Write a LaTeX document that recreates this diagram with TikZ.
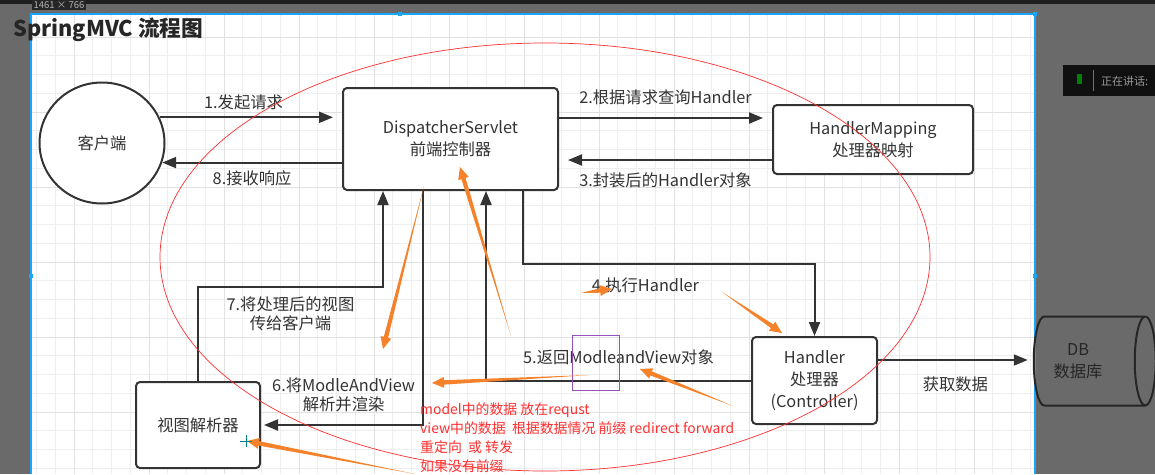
\documentclass[tikz,border=0pt]{standalone}
\usepackage{fontspec}
\setmainfont{Noto Sans CJK SC}
\usepackage{tikz}
\usetikzlibrary{calc, arrows.meta, shapes.geometric, positioning}
\definecolor{linecol}{RGB}{51,51,51}
\definecolor{markcol}{RGB}{245,130,42}
\definecolor{notecol}{RGB}{255,48,48}
\definecolor{gridcol}{RGB}{238,238,238}
\definecolor{gridmaj}{RGB}{225,225,225}
\definecolor{framecol}{RGB}{24,165,250}
\definecolor{darkbg}{RGB}{106,106,106}
\definecolor{selcol}{RGB}{150,80,190}
\newcommand{\boxfont}{\fontsize{16.3}{22}\selectfont}
\newcommand{\edgefont}{\fontsize{16.3}{19}\selectfont}
\newcommand{\notefont}{\fontsize{13.9}{19}\selectfont}
\newcommand{\titlefont}{\fontsize{21.7}{24}\selectfont\bfseries}
% orange hand-drawn marker: tail, tip
\newcommand{\markarrow}[2]{%
  \coordinate (mb) at ($(#2)!12pt!(#1)$);
  \fill[markcol] (#1) -- ($(mb)!2.2pt!90:(#1)$) -- ($(mb)!5.5pt!90:(#1)$) -- (#2)
    -- ($(mb)!5.5pt!-90:(#1)$) -- ($(mb)!2.2pt!-90:(#1)$) -- cycle;}
\tikzset{
    roundnode/.style = {draw=linecol, fill=white, rectangle, rounded corners=4pt, line width=2pt,
      align=center, text=linecol, font=\boxfont, node distance=0em},
    ellipsenode/.style = {draw=linecol, fill=white, ellipse, line width=2pt, inner sep=0em,
      text=linecol, font=\boxfont, node distance=0em},
    cylindernode/.style = {draw=black!85, cylinder, aspect=0.5, line width=2pt, align=center,
      text=black!85, font=\boxfont, node distance=0em},
    textnode/.style = {draw=none, fill=none, rectangle, inner sep=0em, align=center,
      text=linecol, font=\edgefont},
    connect/.style = {draw=linecol, line width=2pt, -{Triangle[length=14pt,width=11pt]}},
    gridline/.style = {gridcol, line width=0.9pt},
    gridmajor/.style = {gridmaj, line width=1pt}
}
\begin{document}
\begin{tikzpicture}[x=1pt, y=-1pt]
\clip (0,0) rectangle (1155,474);
% screen around the canvas
\fill[darkbg] (0,0) rectangle (1155,474);
\fill[black!88] (0,0) rectangle (1155,4);
\fill[white] (31,14) rectangle (1035,474);
\foreach \k in {1,...,54} \draw[gridline] ({17.75+\k*18.75},14) -- ({17.75+\k*18.75},474);
\foreach \k in {1,...,24} \draw[gridline] (31,{18.25+\k*18.75}) -- (1035,{18.25+\k*18.75});
\foreach \k in {0,...,12} \draw[gridmajor] ({74+\k*75},14) -- ({74+\k*75},474);
\foreach \k in {0,...,5} \draw[gridmajor] (31,{37+\k*75}) -- (1035,{37+\k*75});
\draw[framecol, line width=1.5pt] (31,474) -- (31,14) -- (1035,14) -- (1035,474);
\foreach \p in {(31,276), (1035,276), (400,14), (1035,14)} \fill[framecol] \p ++(-2,-2) rectangle ++(4,4);
\node [textnode, fill=black!85, text=black!30, font=\fontsize{9.5}{10}\selectfont, inner sep=1.5pt, name=sizetag] at (59,5) {1461 × 766};
\fill[black!85!darkbg] (1063,65) rectangle (1155,96);
\fill[green!50!black] (1076.5,74) rectangle (1081.5,84);
\draw[black!55, line width=0.8pt] (1093,70) -- (1093,91);
\node [textnode, anchor=west, text=black!40, font=\fontsize{11}{12}\selectfont, name=speaking] at (1101,81) {正在讲话:};

\node [textnode, anchor=west, text=black!85, font=\titlefont, name=title] at (13,30) {SpringMVC 流程图};

\node [ellipsenode, minimum width=125pt, minimum height=121pt, name=client] at (102,143) {客户端};
\node [roundnode, minimum width=215pt, minimum height=102pt, name=servlet] at (450.5,139) {DispatcherServlet\\前端控制器};
\node [roundnode, minimum width=200pt, minimum height=69pt, name=mapping, right of=servlet, xshift=422.5pt, yshift=-0.5pt] {HandlerMapping\\处理器映射};
\node [roundnode, minimum width=125pt, minimum height=87pt, name=handler, below of=mapping, xshift=-58.5pt, yshift=-241pt] {Handler\\处理器\\(Controller)};
\node [roundnode, minimum width=124pt, minimum height=86pt, name=resolver, below of=client, xshift=96pt, yshift=-282pt] {视图解析器};
\node [cylindernode, minimum width=89pt, minimum height=122pt, name=db, right of=handler, xshift=272.5pt, yshift=19.5pt] {DB\hspace*{18pt}\\数据库\hspace*{18pt}};

\draw[connect, shorten >=9pt] (client.24) -- node[textnode, pos=0.46, above=6pt]{1.发起请求} (client.24 -| servlet.west);
\draw[connect] (servlet.west |- client.-18) -- node[textnode, below=7pt]{8.接收响应} (client.-18);
\draw[connect, shorten >=9pt] ([yshift=21pt]servlet.east) -- node[textnode, above=12pt]{2.根据请求查询Handler} ([yshift=21pt]servlet.east -| mapping.west);
\draw[connect, shorten >=9pt] ([yshift=-20.5pt]mapping.west) -- node[textnode, below=12pt]{3.封装后的Handler对象} ([yshift=-20.5pt]mapping.west -| servlet.east);
\draw[connect] ([xshift=72.5pt]servlet.south) -- ++(0,73) -| node[textnode, pos=0.21, below=13pt]{4.执行Handler} (handler.north);
\draw[connect] (handler.west) -| node[textnode, pos=0.25, above=15pt]{5.返回ModleandView对象} ([xshift=35.5pt]servlet.south);
\draw[connect, shorten >=3pt] ([xshift=-27.5pt]servlet.south) |- node[textnode, pos=0.745, above=12pt]{6.将ModleAndView\\解析并渲染} (resolver.east);
\draw[connect] (resolver.north) -- ++(0,-94) -| node[textnode, pos=0.25, below=9pt]{7.将处理后的视图\\传给客户端} ([xshift=-67.5pt]servlet.south);
\draw[connect, shorten >=5pt] ([yshift=20.5pt]handler.east) -- node[textnode, below=16pt]{获取数据} ([yshift=20.5pt]handler.east -| db.west);

% notes drawn over the diagram
\draw[notecol, line width=0.7pt] (545,257) ellipse [x radius=385, y radius=214];
\draw[selcol, line width=0.8pt] (572,335) rectangle (619,390);
\node [textnode, anchor=north west, align=left, text=notecol, font=\notefont, name=note] at (420,403) {model中的数据 放在requst\\view中的数据\ \ 根据数据情况 前缀 redirect forward\\重定向\ \ 或 转发\\如果没有前缀};

\markarrow{424,186}{383,349}
\markarrow{511,336}{460,167}
\markarrow{581,293}{612,289}
\markarrow{722,292}{782,333}
\markarrow{733,406}{640,369}
\markarrow{590,375}{432,383}
\markarrow{415,474}{247,441}
\draw[teal, line width=0.7pt] (240,441) -- (252,441) (246,435) -- (246,447);
\end{tikzpicture}
\end{document}
